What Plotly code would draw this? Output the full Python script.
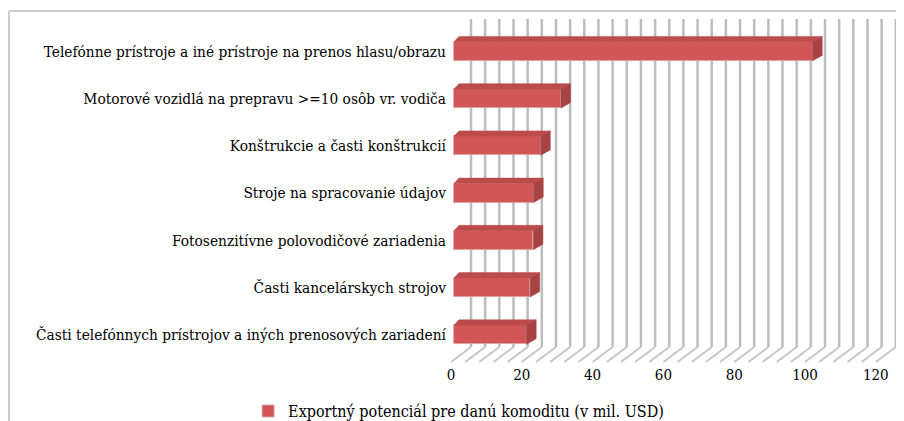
import plotly.graph_objects as go

# categories top to bottom, values in mil. USD
categories = [
    'Telefónne prístroje a iné prístroje na prenos hlasu/obrazu',
    'Motorové vozidlá na prepravu &gt;=10 osôb vr. vodiča',
    'Konštrukcie a časti konštrukcií',
    'Stroje na spracovanie údajov',
    'Fotosenzitívne polovodičové zariadenia',
    'Časti kancelárskych strojov',
    'Časti telefónnych prístrojov a iných prenosových zariadení',
]
values = [101.3, 30.2, 24.5, 22.5, 22.4, 21.5, 20.5]
x_ticks = [0, 20, 40, 60, 80, 100, 120]
grid_step = 4
series_name = 'Exportný potenciál pre danú komoditu (v mil. USD)'

# fake 3d look (in axis units)
px_x = 3.54      # px per x unit
px_y = 47.23     # px per category
floor_dx = 20 / px_x
floor_front = -0.578
floor_back = -0.26
wall_top = 6.684
bar_x0 = 3 / px_x
half_h = 9.5 / px_y
top_dy = 5.4 / px_y
dx_left = 5 / px_x
dx_right = 9.6 / px_x

pos = list(range(len(categories)))[::-1]

fig = go.Figure()

# back wall + floor lines as shapes below traces
shapes = []
for v in range(0, 121, grid_step):
    shapes.append(dict(type='line', xref='x', yref='y', layer='below',
                       x0=v + floor_dx, x1=v + floor_dx, y0=floor_back, y1=wall_top,
                       line=dict(color='#BDBDBD', width=2.5)))
    shapes.append(dict(type='line', xref='x', yref='y', layer='below',
                       x0=v, x1=v + floor_dx, y0=floor_front, y1=floor_back,
                       line=dict(color='#C4C4C4', width=1.8)))

# chart area border
shapes.append(dict(type='line', xref='paper', yref='paper', x0=-0.969, x1=-0.969,
                   y0=1.0115, y1=-0.2, line=dict(color='#CCCCCC', width=2)))
shapes.append(dict(type='line', xref='paper', yref='paper', x0=-0.969, x1=1.02,
                   y0=1.0115, y1=1.0115, line=dict(color='#CCCCCC', width=2)))

fig.add_trace(go.Bar(
    y=pos, x=values, base=bar_x0, orientation='h', width=2 * half_h,
    name=series_name,
    marker=dict(color='#D35656', line=dict(color='#D9A3A3', width=0.8)),
    hoverinfo='skip',
))

for y, v in zip(pos, values):
    yt = y + half_h
    yb = y - half_h
    xr = bar_x0 + v
    fig.add_trace(go.Scatter(
        x=[bar_x0, bar_x0 + dx_left, xr + dx_right, xr, bar_x0],
        y=[yt, yt + top_dy, yt + top_dy, yt, yt],
        fill='toself', fillcolor='#BC4B4B', mode='lines',
        line=dict(color='#BC4B4B', width=0.5), showlegend=False, hoverinfo='skip'))
    fig.add_trace(go.Scatter(
        x=[xr, xr + dx_right, xr + dx_right, xr, xr],
        y=[yt, yt + top_dy, yb + top_dy, yb, yt],
        fill='toself', fillcolor='#A84343', mode='lines',
        line=dict(color='#A84343', width=0.5), showlegend=False, hoverinfo='skip'))

serif = 'DejaVu Serif Condensed, DejaVu Serif, serif'
# page body has an 8px margin, so the figure is 8px smaller than the window
fig.update_layout(
    width=896, height=413, autosize=False,
    margin=dict(l=439, r=5, t=7, b=57, autoexpand=False),
    paper_bgcolor='white', plot_bgcolor='white',
    font=dict(family=serif, size=15, color='#000000'),
    shapes=shapes,
    showlegend=True,
    legend=dict(orientation='h', x=-0.44, xanchor='left', y=-0.135, yanchor='middle',
                font=dict(family=serif, size=16), bgcolor='rgba(0,0,0,0)'),
    bargap=0,
)
fig.update_xaxes(range=[-1.13, 126.55], tickvals=x_ticks, showgrid=False,
                 zeroline=False, showline=False, ticks='', fixedrange=True,
                 automargin=False, tickfont=dict(family=serif, size=15))
fig.update_yaxes(range=[-0.62, 6.769], tickvals=pos, ticktext=categories,
                 showgrid=False, zeroline=False, showline=False, ticks='',
                 fixedrange=True, automargin=False,
                 tickfont=dict(family=serif, size=15.3))

fig.write_html('out.html')
